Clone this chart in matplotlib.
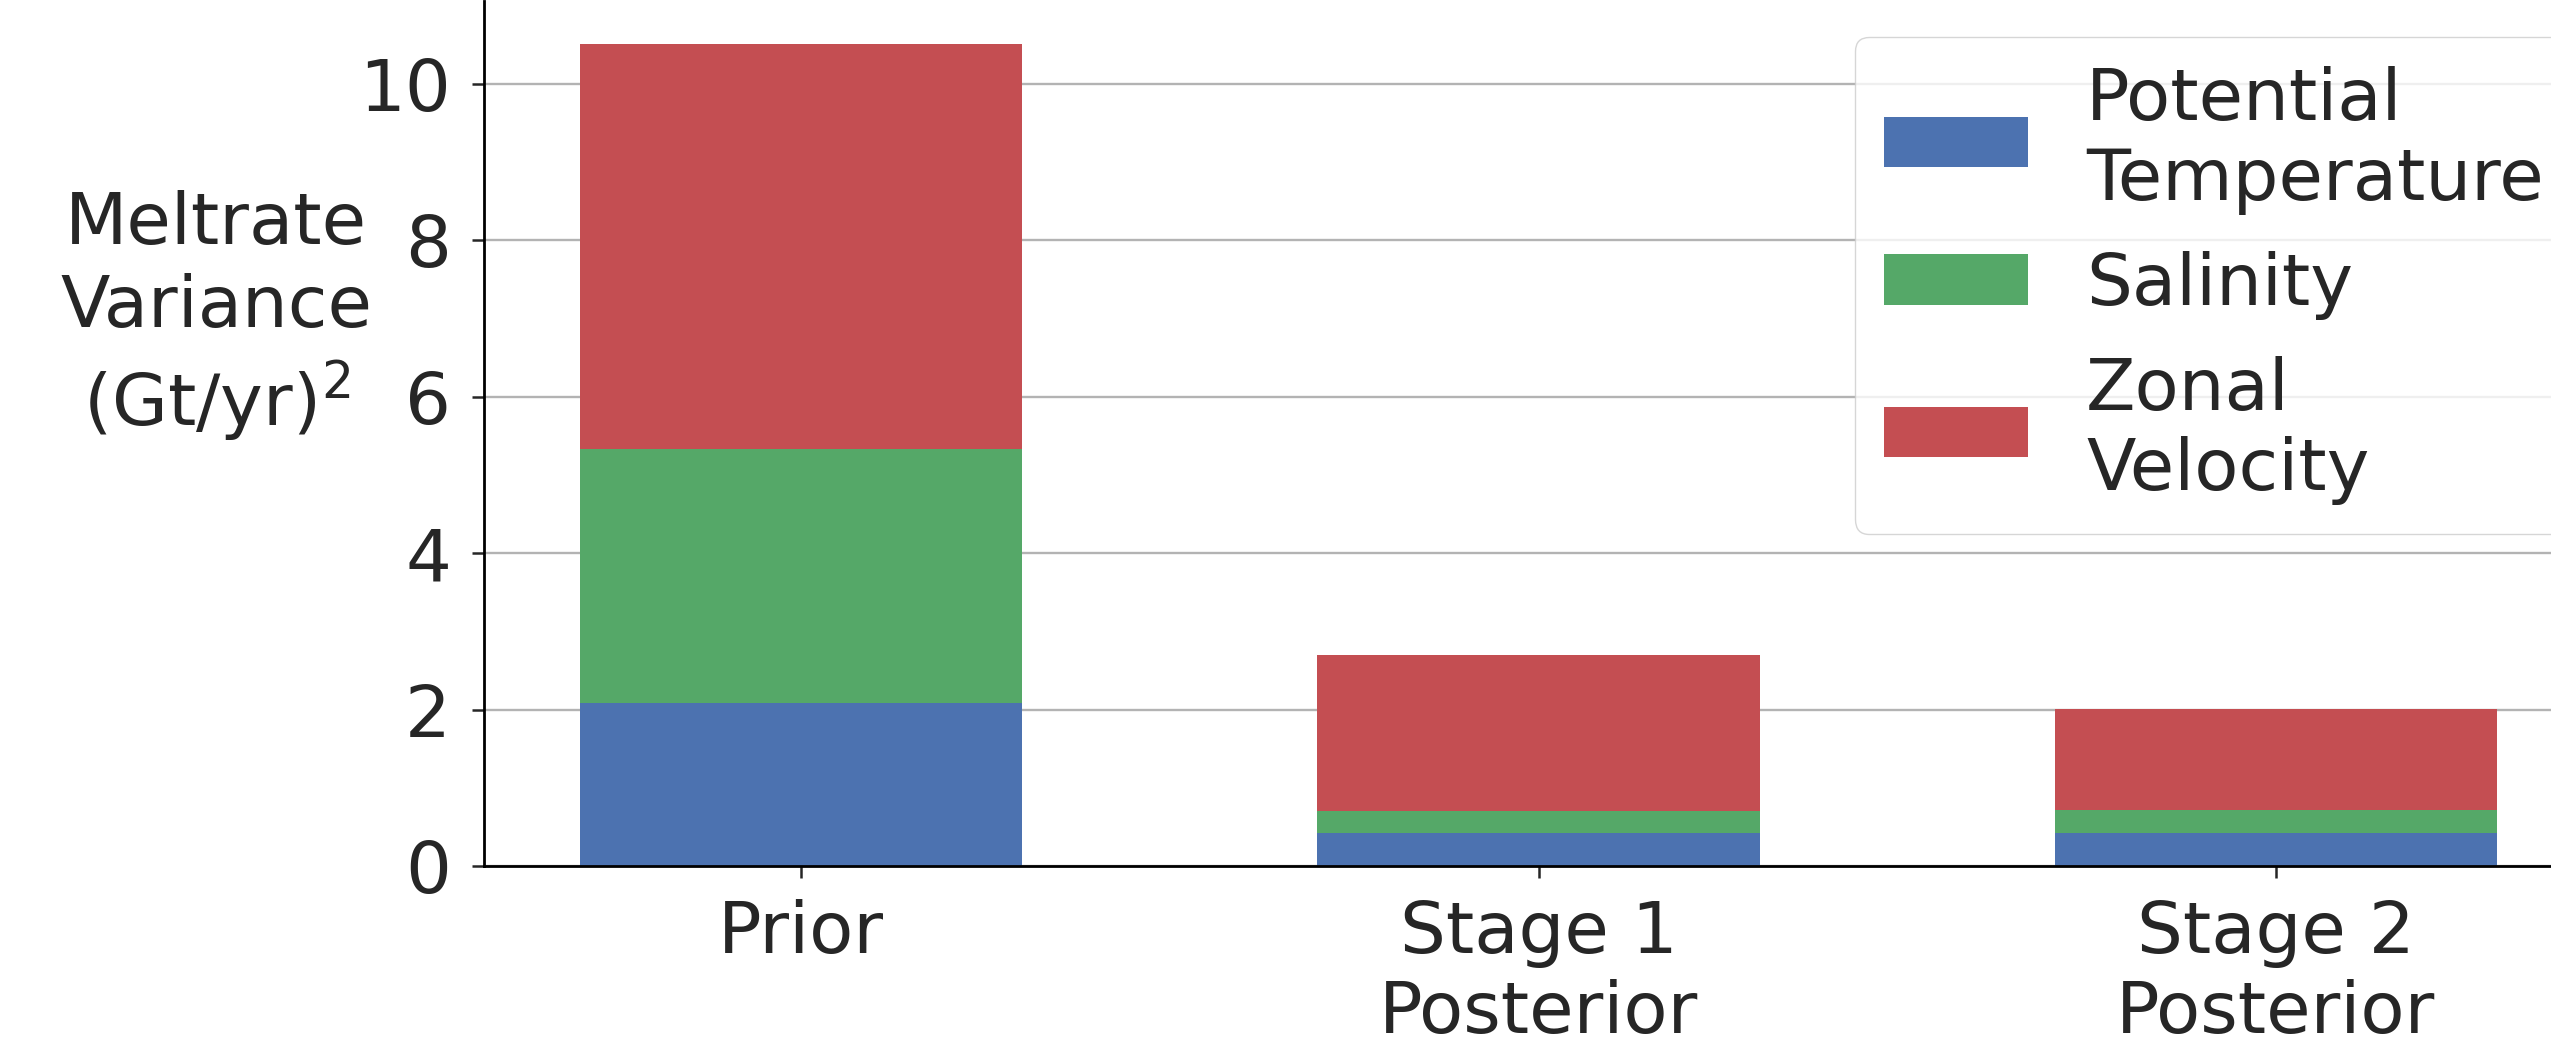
import matplotlib
matplotlib.use("Agg")
import matplotlib.pyplot as plt
import numpy as np

# Meltrate variance contributions for each stage, (Gt/yr)^2
stages = ["Prior", "Stage 1\nPosterior", "Stage 2\nPosterior"]
potential_temperature = [2.08, 0.42, 0.42]
salinity = [3.25, 0.28, 0.29]
zonal_velocity = [5.18, 2.00, 1.30]

series_labels = ["Potential\nTemperature", "Salinity", "Zonal\nVelocity"]
series_colors = ["#4C72B0", "#55A868", "#C44E52"]

text_color = "#262626"
fs = 52

plt.rcParams.update({
    "font.family": "DejaVu Sans",
    "font.size": fs,
    "text.color": text_color,
    "axes.labelcolor": text_color,
    "xtick.color": text_color,
    "ytick.color": text_color,
})

W, H = 2551, 1048
fig = plt.figure(figsize=(W / 100, H / 100), dpi=100)

# axes placed in pixel terms; right end runs past the canvas edge
ax_left, ax_bottom_px, ax_w, ax_h = 484, 866, 2109, 865
ax = fig.add_axes([ax_left / W, (H - ax_bottom_px) / H, ax_w / W, ax_h / H])

x = np.arange(len(stages))
width = 0.6
bottom = np.zeros(len(stages))
for vals, lab, col in zip([potential_temperature, salinity, zonal_velocity],
                          series_labels, series_colors):
    ax.bar(x, vals, width, bottom=bottom, color=col, label=lab, zorder=2)
    bottom += np.array(vals)

ax.set_xlim(-0.43, 2.43)
ax.set_ylim(0, 11.06)
ax.set_yticks([0, 2, 4, 6, 8, 10])
ax.set_xticks(x)
ax.set_xticklabels(stages)

ax.set_axisbelow(True)
ax.yaxis.grid(True, color="#b3b3b3", linewidth=1.7)
ax.xaxis.grid(False)

for side in ["top", "right"]:
    ax.spines[side].set_visible(False)
for side in ["left", "bottom"]:
    ax.spines[side].set_linewidth(2.0)
    ax.spines[side].set_color("black")

ax.tick_params(axis="both", length=8.6, width=1.8, pad=15, labelsize=fs)

ax.set_ylabel("Meltrate\nVariance\n(Gt/yr)$^2$", rotation=0, ha="center",
              va="center", multialignment="center", fontsize=fs,
              linespacing=1.25)
ax.yaxis.set_label_coords(-0.127, 0.634)

leg = ax.legend(loc="upper left", bbox_to_anchor=(1855 / W, 1 - 37 / H),
                bbox_transform=fig.transFigure, borderaxespad=0,
                fontsize=fs, frameon=True, framealpha=0.8, edgecolor="0.8",
                fancybox=True)
for t in leg.get_texts():
    t.set_color(text_color)

fig.savefig("out.png", dpi=100)
